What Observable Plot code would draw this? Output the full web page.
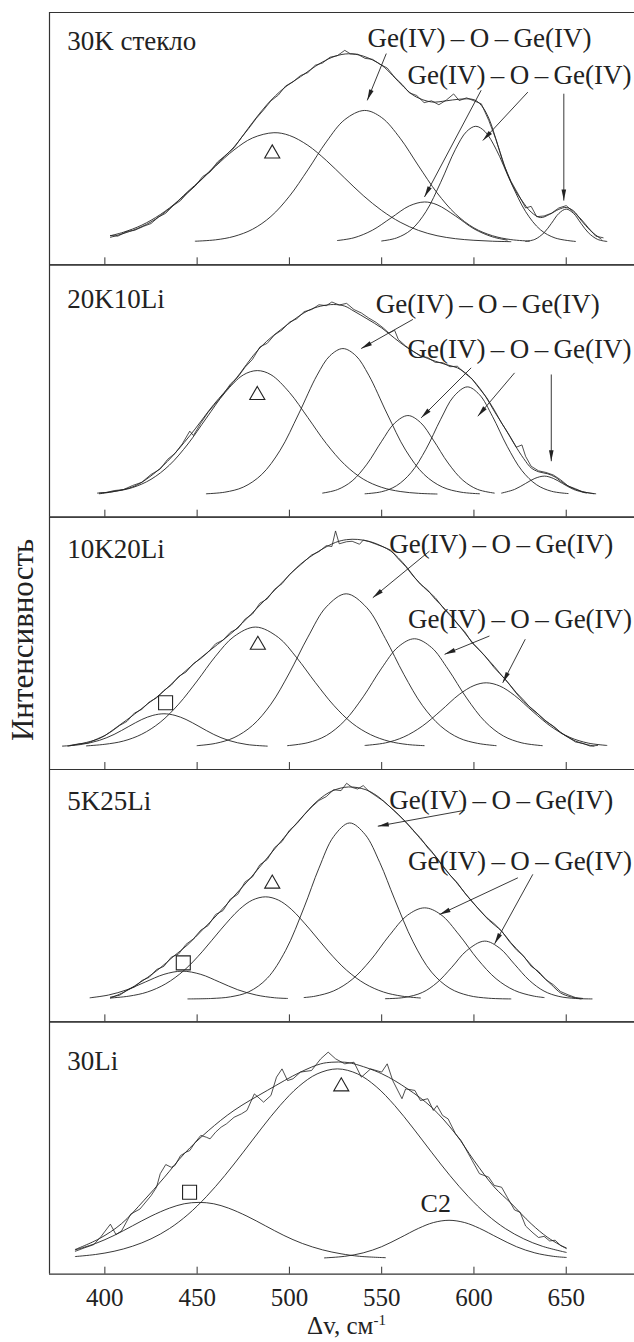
<!DOCTYPE html>
<html><head><meta charset="utf-8">
<script src="https://cdn.jsdelivr.net/npm/d3@7"></script>
<script src="https://cdn.jsdelivr.net/npm/@observablehq/plot@0.6"></script>
<style>
body{margin:0;background:#fff;}
#wrap{position:relative;width:634px;height:1342px;font-family:"Liberation Serif","Times New Roman",serif;color:#222;overflow:hidden;}
#ylab{position:absolute;left:22.5px;top:640px;transform:translate(-50%,-50%) rotate(-90deg);font-size:31px;white-space:nowrap;line-height:1.15;}
#xlab{position:absolute;left:346.5px;top:1313px;transform:translateX(-50%);font-size:25px;white-space:nowrap;line-height:1;}
#xlab sup{font-size:15px;vertical-align:9px;line-height:0;}
</style></head><body><div id="wrap"></div>
<script>
// ---------- categories / tick labels ----------
const panels = ["30K стекло", "20K10Li", "10K20Li", "5K25Li", "30Li"];
const xTicks = [400, 450, 500, 550, 600, 650];
const geText = "Ge(IV)\u2009\u2013\u2009O\u2009\u2013\u2009Ge(IV)";

// ---------- panel 1: 30K стекло ----------
const p1Exp = [[403,2.8],[407,2.5],[412,4.6],[416,5],[421,6.8],[425,8],[429,10.8],[433,12.5],[437,15.8],[441,18],[445,21.6],[449,24.4],[453,28.5],[457,30.5],[461,34.8],[465,37.5],[470,41],[474,45.5],[478,49.5],[482,53.8],[486,57.5],[490,61.5],[494,64],[498,68],[502,69.8],[506,72.5],[510,73.8],[514,77],[518,78],[522,80.5],[526,81.2],[530,83.5],[533,82],[537,81.8],[541,80],[545,79.6],[549,77.5],[553,75.8],[557,71.8],[561,68.7],[565,65],[569,63.8],[573,60.7],[577,61.5],[581,59.8],[585,61.8],[589,64.5],[592,61.6],[596,62.8],[600,61.5],[604,60.2],[608,53],[612,44.5],[616,34],[620,26.5],[624,20.8],[628,14.8],[631,15.5],[634,11],[638,11.3],[642,12.5],[646,14.8],[650,15.8],[654,13],[658,10],[662,6.2],[666,2.5],[670,1.8]];
const p1Fit = [[403,2],[415,5],[425,8.7],[435,14.5],[445,22],[452,27],[460,33.5],[470,41.4],[480,52],[488,60],[497,67],[506,72],[517,78],[525,81],[532,82],[540,81],[550,77],[556,72.5],[562,67.5],[568,63.5],[577,61],[585,61.5],[592,62.2],[600,62],[604,59.5],[608,54],[613,42],[618,30],[622,23],[626,18],[631,13],[636,10.6],[641,12],[646,14.2],[650,15],[654,13.5],[658,9.5],[663,5],[669,1.2]];
const p1Tri = [[403,2.7],[410,4.2],[420,7.3],[430,11.9],[440,18],[450,25.3],[460,33],[470,40.1],[480,45.3],[491.6,47.6],[500,46.4],[510,42.1],[520,35.5],[530,27.8],[540,20.2],[550,13.7],[560,8.6],[570,5],[580,2.7],[590,1.4],[600,0.7],[610,0.3],[620,0.1]];
const p1B540 = [[449,0.3],[460,0.9],[470,2.4],[480,5.5],[490,11.1],[500,19.9],[510,31.4],[520,43.6],[530,53.3],[540.7,57.3],[550,54.2],[560,45.2],[570,33.1],[580,21.4],[590,12.2],[600,6.1],[610,2.7],[620,1],[630,0.35]];
const p1B573 = [[526,0.6],[535,1.8],[545,5.1],[555,10.4],[565,15.7],[573.2,17.4],[580,16.2],[590,11.3],[600,5.7],[610,2.2],[618,0.8]];
const p1B601 = [[550,0.4],[558,1.7],[566,5.3],[574,13.2],[582,26],[590,40.4],[596,48.1],[601,50.4],[606,48.1],[612,40.4],[620,26],[628,13.2],[636,5.3],[644,1.7],[655,0.2]];
const p1B650 = [[628,0.2],[633,1.1],[638,4],[642,8.1],[646,12.4],[650,14.3],[654,12.4],[658,8.1],[662,4],[667,1.1],[672,0.2]];

// ---------- panel 2: 20K10Li ----------
const p2Exp = [[396,0.5],[401,0.8],[405,1.6],[410,2],[415,3.8],[420,5.2],[425,8.6],[430,11],[434,15.2],[438,17.8],[442,22],[446,27.5],[448,25.6],[452,31],[456,35.8],[460,39.6],[464,43.4],[468,48],[472,51],[476,55.4],[480,58.8],[484,64.2],[488,65.8],[492,69.5],[496,71.6],[500,75],[504,76.5],[508,79.6],[512,80.5],[516,82.6],[520,82.2],[523,83.8],[527,82.5],[531,83.2],[535,80.5],[539,79],[543,76.8],[547,74.9],[551,72.4],[554,70.2],[557,71.5],[559,67.5],[563,64.6],[567,62.4],[571,60.2],[575,59.6],[579,57.5],[583,57.4],[587,55.6],[591,55.8],[595,52.8],[599,50.2],[603,46],[607,42],[611,36.8],[615,31],[619,26],[623,20.5],[626,21.5],[628,16.5],[631,12.2],[635,10.2],[639,9.5],[643,8.4],[647,6.3],[651,3.6],[655,2.4],[659,1],[663,0.5],[666,0.2]];
const p2Fit = [[397,0.2],[405,1.2],[416,3.5],[425,8],[434,14.4],[446,25.5],[459,39.1],[470,49.3],[484,63.8],[499,74],[510,80],[517,82],[524,82.7],[530,82],[535,79.8],[542,76.5],[550,72.5],[557,68],[564,63.8],[571,60.5],[579,58],[585,56.5],[591,55.1],[596,52.5],[600,49.3],[606,43],[611,36.2],[617,28.5],[622,21.7],[627,15.5],[631,11.5],[635,9.8],[640,8.9],[644,7.5],[647,5.7],[652,3.2],[658,1.3],[665,0.2]];
const p2Tri = [[397,0.5],[405,1.2],[415,2.9],[425,6.5],[435,12.7],[445,21.9],[455,33.2],[465,44.2],[475,52],[482.6,53.9],[490,52.1],[500,44.4],[510,33.4],[520,22.1],[530,12.9],[540,6.6],[550,3],[560,1.2],[570,0.4],[580,0.1]];
const p2B529 = [[455,0.2],[465,0.9],[475,3.1],[485,8.6],[495,19.2],[505,35],[515,51.9],[522,60.4],[529,63.5],[536,60.4],[543,51.9],[553,35],[563,19.2],[573,8.6],[583,3.1],[593,0.9],[603,0.2]];
const p2B564 = [[518,0.5],[526,2],[534,5.8],[542,13.1],[550,23.1],[557,31],[564.2,34.3],[571,31.3],[578,23.6],[586,13.6],[594,6.1],[602,2.1],[611,0.5]];
const p2B596 = [[541,0.2],[550,1.1],[558,3.7],[566,9.5],[574,19.6],[582,32.7],[589,42.6],[596.4,46.8],[603,43.4],[610,34],[618,20.9],[626,10.3],[634,4.1],[642,1.3],[651,0.3]];
const p2B638 = [[615,0.5],[622,2.1],[628,4.7],[633,6.9],[638.2,7.9],[643,6.9],[648,4.7],[654,2.1],[661,0.5]];

// ---------- panel 3: 10K20Li ----------
const p3Exp = [[381,0.5],[386,1.2],[391,1.6],[396,3.4],[400,4.8],[404,6.8],[408,9.2],[412,11],[416,14.6],[420,16.2],[424,19.4],[428,21.2],[432,24.5],[436,26.8],[440,30.6],[444,32.5],[448,36.2],[452,38.4],[456,41.2],[460,44.8],[464,46.4],[468,49.8],[472,51.5],[476,55.6],[480,57.8],[484,62.5],[488,64.4],[492,68.6],[496,71],[500,75],[504,77.8],[508,80.6],[512,83.5],[516,85],[520,87.6],[523,87.2],[525,94],[527,88.4],[531,89.3],[534,89.5],[538,88.2],[540,90],[543,89.4],[547,88.2],[551,87],[555,85.6],[559,81.8],[563,78.5],[567,74.4],[571,70.8],[575,68.2],[579,64.2],[583,61],[587,57.6],[591,53.5],[595,50.1],[599,45.2],[603,42],[607,38.5],[611,35],[615,31],[619,27.4],[623,23.5],[627,20.2],[631,16.5],[635,14],[639,11],[643,8.9],[647,6],[651,4.2],[655,2],[659,1.4],[663,0.2],[667,0.5]];
const p3Fit = [[380,0.2],[390,1.8],[398,3.9],[407,8.8],[416,14.1],[423,18.5],[430,22.8],[441,31],[452,38.7],[461,44.5],[470,50.4],[479,57.5],[488,64.9],[497,72.3],[506,79.5],[516,85.2],[525,89],[531,90.2],[537,90.3],[544,89.3],[550,87.4],[555,85.2],[559,82.3],[564,77.8],[568,73.6],[573,69.3],[579,64.9],[584,59.8],[590,54.7],[595,49.6],[600,44.6],[606,39.5],[611,34.4],[617,29.3],[622,24.2],[627,19.6],[633,15.5],[638,11.8],[644,8.2],[649,5],[655,2.4],[660,1.1],[665,0.2]];
const p3Sq = [[377,0.2],[387,0.9],[397,2.7],[405,5.3],[413,8.8],[420,11.8],[426,13.6],[432,14.3],[438,13.6],[444,11.8],[451,8.8],[459,5.3],[467,2.7],[477,0.9],[488,0.2]];
const p3Tri = [[390,0.3],[400,1],[410,2.4],[420,5.4],[430,10.6],[440,18.5],[450,28.6],[460,39.4],[470,48],[481.7,52.1],[494,47.6],[504,38.7],[514,28],[524,18],[534,10.2],[544,5.2],[554,2.3],[564,0.9],[573,0.4]];
const p3B531 = [[450,0.4],[460,1.4],[470,3.9],[480,9.2],[490,18.5],[500,32.1],[510,47.7],[520,60.9],[530.8,66.6],[542,60.5],[552,47.1],[562,31.5],[572,18],[582,8.9],[592,3.7],[602,1.4],[612,0.4]];
const p3B568 = [[499,0.4],[510,1.7],[520,4.8],[530,11.3],[540,21.7],[550,34.2],[559,43.5],[567.8,47],[577,43.2],[586,33.7],[596,21.2],[606,10.9],[616,4.6],[626,1.6],[637,0.4]];
const p3B607 = [[541,0.5],[552,1.6],[562,4.2],[572,8.9],[582,15.6],[592,22.7],[600,26.6],[606.7,27.8],[614,26.4],[622,22.3],[632,15.2],[642,8.6],[652,4],[662,1.5],[672,0.5]];

// ---------- panel 4: 5K25Li ----------
const p4Exp = [[403,0.8],[408,1.6],[412,3.8],[416,5.2],[420,8],[424,9.4],[428,12.8],[432,14.2],[436,18.2],[440,19.6],[444,23.8],[448,26.2],[452,30],[456,32],[460,36.8],[464,38.5],[468,43.5],[472,45.6],[476,51],[480,53.2],[484,58.5],[488,60.8],[492,66],[496,68.6],[500,73.5],[504,76.4],[508,80.2],[512,83.6],[516,86.5],[520,88.2],[524,91.2],[528,90.8],[531,94],[534,92.2],[537,91.5],[540,93],[543,90.6],[547,88.4],[551,86.2],[555,83.4],[559,80.5],[563,77.2],[567,73.4],[571,70.2],[575,65.8],[579,62.4],[583,58.3],[587,54],[591,50.6],[595,46.2],[599,42.3],[603,38.8],[607,35.4],[611,32.8],[615,29.6],[619,25.2],[623,21.4],[627,18.6],[631,14.2],[635,12],[639,8.4],[643,6.2],[647,3.2],[651,1.8],[655,0.6],[659,0.2]];
const p4Fit = [[403,0.4],[410,2.8],[416,5.6],[423,9.3],[430,13.5],[437,18.4],[445,23.7],[453,30.2],[461,36.8],[470,44.8],[479,52.8],[488,61.5],[497,70.2],[506,78.5],[515,86.2],[523,90.6],[532,92.4],[541,91.3],[547,88.8],[553,84.8],[560,79.5],[566,74.6],[571,69.8],[577,64.4],[583,57.8],[590,51.3],[596,45.3],[602,39.7],[608,34.4],[615,29.5],[620,24.5],[626,19.4],[631,14.8],[636,10.7],[642,6.2],[647,2.6],[652,1],[658,0]];
const p4Sq = [[392,0.5],[402,1.7],[412,4],[422,7.4],[432,10.7],[441.9,12.1],[452,10.7],[462,7.4],[472,4],[482,1.7],[492,0.5],[499,0.2]];
const p4Tri = [[403,0.4],[413,1.2],[423,3],[433,6.6],[443,12.5],[453,20.8],[463,30.4],[473,39.1],[480,43.1],[487.1,44.5],[494,43.1],[501,39.1],[511,30.4],[521,20.8],[531,12.5],[541,6.6],[551,3],[561,1.2],[571,0.4]];
const p4B533 = [[445,0],[458,0.2],[468,0.9],[478,3.1],[488,9],[498,21.2],[508,40],[516,57],[524,70.8],[532.6,76.7],[541,71.7],[549,59.4],[557,43.5],[567,24.9],[577,11.7],[587,4.6],[597,1.5],[608,0.3],[620,0]];
const p4B573 = [[508,0.6],[514,1.2],[524,3.5],[534,8.5],[544,16.9],[554,27.5],[564,36.5],[573.2,39.7],[582,36.8],[592,27.9],[602,17.3],[612,8.8],[622,3.7],[632,1.3],[638,0.6]];
const p4B606 = [[552,0.1],[562,0.6],[572,2.8],[580,7.1],[588,13.8],[596,21],[605.7,25.2],[614,22.1],[622,15.1],[630,8.1],[638,3.4],[646,1.1],[655,0.2],[664,0]];

// ---------- panel 5: 30Li ----------
const p5Exp = [[384,0],[389,1.5],[394,2.9],[398,6.5],[403,11.8],[406,7.3],[409,8.8],[414,16.2],[419,18.4],[425,24.2],[428,27.9],[430,33.8],[433,37.8],[436,36.6],[438,37.4],[441,41.7],[444,43.2],[446,43.9],[449,47.5],[452,50.5],[455,49.7],[457,49],[460,51.9],[463,54.1],[466,55.6],[470,58.4],[474,59.9],[477,61.4],[481,68.6],[483,67.2],[486,65],[490,67.9],[493,75.9],[496,79.5],[499,74.4],[502,75.2],[506,78.1],[512,78.8],[517,83.9],[521,86.8],[525,83.9],[530,81.7],[535,82.4],[539,75.9],[544,79.5],[550,78.1],[553,81.7],[556,74.4],[561,66.5],[563,70.8],[568,70.1],[571,65.7],[575,66.5],[578,61.4],[580,63.5],[583,59.2],[586,57.7],[590,51.2],[593,48.3],[597,42.5],[599,39.6],[603,33.8],[608,32.3],[611,28.7],[615,27.9],[618,23.6],[622,18],[625,17],[628,11],[632,8],[635,6],[638,6.5],[641,4.5],[644,4.8],[647,2.5],[650,1.5]];
const p5Fit = [[384,0.8],[397,5.5],[409,12],[421,22],[432,32],[443,42.5],[456,52.5],[470,61.4],[488,70.1],[506,78.1],[517,81.7],[523,82.4],[530,82.4],[535,81.7],[550,77.4],[564,70.8],[577,62.8],[590,51.2],[600,39.6],[611,28],[620,21],[631,12],[640,6],[650,1.2]];
const p5Sq = [[384,0.6],[395,3.4],[405,6.9],[415,11.1],[425,15.3],[435,18.8],[443,20.7],[451,21.3],[459,20.7],[467,18.8],[477,15.3],[487,11.1],[497,6.9],[507,3.4],[518,0.6],[528,-1.1],[538,-2.2],[552,-2.8]];
const p5Tri = [[384,-2.3],[395,-1.4],[405,0],[415,2.2],[425,5.4],[435,9.9],[445,16],[455,23.8],[465,33],[475,43.2],[485,53.7],[495,63.6],[505,71.8],[515,77.3],[526,79.5],[537,77.3],[547,71.8],[557,63.6],[567,53.7],[577,43.2],[587,33],[597,23.8],[607,16],[617,9.9],[627,5.4],[637,2.2],[650,-0.5]];
const p5C2 = [[519,-2.9],[530,-2.2],[540,-0.7],[550,2],[560,5.9],[570,10],[578,12.5],[586.5,13.5],[595,12.5],[603,10],[613,5.9],[623,2],[633,-0.7],[643,-2.2],[650,-2.7]];

// ---------- annotations (panel index, data coordinates) ----------
const geLabels = [[0,603,84.9],[0,624.7,69],[1,607.5,79.1],[1,624.7,59.2],[2,614.8,84.5],[2,625,51.8],[3,614.8,82.6],[3,625,56]];
const arrowsData = [
  [0,552.5,82.1,542.2,61.7],[0,603.9,66.1,573.2,19.6],[0,629.2,65.3,604.8,44.2],[0,648.7,64.6,648.7,18],
  [1,566.9,76.2,538.9,63.5],[1,598.5,55.1,571.4,33.3],[1,622,52.9,602.1,34],[1,641.9,52.2,641.9,14.4],
  [2,575.9,85.2,545.2,64.9],[2,608.4,48.2,584.1,40.2],[2,627.8,46.8,615.6,27.8],
  [3,594.9,82.2,547.9,75.3],[3,623.8,52.8,581.4,36.8],[3,631.9,54.3,611.2,24]
];
const triMarks = [[0,490.7,38.5],[1,482.6,43.2],[2,482.9,44.3],[3,490.7,50.2],[4,528.1,71.8]];
const sqMarks = [[2,432.9,19.1],[3,442.5,15.7],[4,445.9,25.7]];
const nameMarks = [[0,379.6,83.5],[1,379.6,81],[2,379.6,82.1],[3,379.6,82.2],[4,379.6,78.8]];
const c2Mark = [[4,579.3,16.9,"C2"]];

// ---------- build tables ----------
const curveList = [
  [0,"exp",p1Exp],[0,"fit",p1Fit],[0,"tri",p1Tri],[0,"b540",p1B540],[0,"b573",p1B573],[0,"b601",p1B601],[0,"b650",p1B650],
  [1,"exp",p2Exp],[1,"fit",p2Fit],[1,"tri",p2Tri],[1,"b529",p2B529],[1,"b564",p2B564],[1,"b596",p2B596],[1,"b638",p2B638],
  [2,"exp",p3Exp],[2,"fit",p3Fit],[2,"sq",p3Sq],[2,"tri",p3Tri],[2,"b531",p3B531],[2,"b568",p3B568],[2,"b607",p3B607],
  [3,"exp",p4Exp],[3,"fit",p4Fit],[3,"sq",p4Sq],[3,"tri",p4Tri],[3,"b533",p4B533],[3,"b573",p4B573],[3,"b606",p4B606],
  [4,"exp",p5Exp],[4,"fit",p5Fit],[4,"sq",p5Sq],[4,"tri",p5Tri],[4,"c2",p5C2]
];
const rows = curveList.flatMap(([pi, s, arr]) => arr.map(([x, y]) => ({panel: panels[pi], id: pi + "-" + s, kind: s === "exp" ? "exp" : "smooth", x, y})));
const smoothRows = rows.filter(d => d.kind === "smooth");
const expRows = rows.filter(d => d.kind === "exp");
const toPt = arr => arr.map(([pi, x, y, t]) => ({panel: panels[pi], x, y, t}));
const arrowRows = arrowsData.map(([pi, x1, y1, x2, y2]) => ({panel: panels[pi], x1, y1, x2, y2}));

const ink = "#222";
const yMin = -10, yMax = 100;
const tickLen = 7 * (yMax - yMin) / (1261.7 / 5);

function filledHead(color) {
  const m = d3.create("svg:marker")
    .attr("viewBox", "-11 -3 11 6")
    .attr("markerWidth", 11).attr("markerHeight", 6)
    .attr("markerUnits", "userSpaceOnUse")
    .attr("orient", "auto").attr("overflow", "visible");
  m.append("path").attr("fill", color).attr("stroke", "none").attr("d", "M-11,-2.3L0,0L-11,2.3Z");
  return m.node();
}

function build(useMarker) {
  const arrowMark = useMarker
    ? Plot.link(arrowRows, {x1: "x1", y1: "y1", x2: "x2", y2: "y2", fy: "panel", stroke: ink, strokeWidth: 0.9, markerEnd: filledHead})
    : Plot.arrow(arrowRows, {x1: "x1", y1: "y1", x2: "x2", y2: "y2", fy: "panel", stroke: ink, strokeWidth: 0.9, headLength: 9, headAngle: 24});
  return Plot.plot({
    width: 634, height: 1342,
    marginLeft: 49, marginRight: 0, marginTop: 12, marginBottom: 68.3,
    x: {domain: [370, 687]},
    y: {domain: [yMin, yMax], axis: null},
    fy: {domain: panels, axis: null, padding: 0, round: false},
    style: {fontFamily: '"Liberation Serif","Times New Roman",serif', color: ink, background: "white", overflow: "visible"},
    marks: [
      Plot.ruleY([yMin, yMax], {stroke: "#333", strokeWidth: 1.2}),
      Plot.ruleX([370], {stroke: "#333", strokeWidth: 1.2}),
      Plot.ruleX(xTicks, {x: d => d, y1: yMin, y2: yMin + tickLen, stroke: "#333", strokeWidth: 1}),
      Plot.line(smoothRows, {x: "x", y: "y", z: "id", fy: "panel", curve: "catmull-rom", stroke: ink, strokeWidth: 0.9}),
      Plot.line(expRows, {x: "x", y: "y", z: "id", fy: "panel", curve: "linear", stroke: ink, strokeWidth: 0.8}),
      arrowMark,
      Plot.text(toPt(geLabels), {x: "x", y: "y", fy: "panel", text: () => geText, fontSize: 27, textAnchor: "middle", lineAnchor: "bottom", fill: ink}),
      Plot.text(toPt(nameMarks), {x: "x", y: "y", fy: "panel", text: d => d.panel, fontSize: 27, textAnchor: "start", lineAnchor: "bottom", fill: ink}),
      Plot.text(toPt(c2Mark), {x: "x", y: "y", fy: "panel", text: "t", fontSize: 26, textAnchor: "middle", lineAnchor: "bottom", fill: ink}),
      Plot.dot(toPt(triMarks), {x: "x", y: "y", fy: "panel", symbol: "triangle", r: 5.6, fill: "none", stroke: ink, strokeWidth: 1.1}),
      Plot.dot(toPt(sqMarks), {x: "x", y: "y", fy: "panel", symbol: "square", r: 7.9, fill: "none", stroke: ink, strokeWidth: 1.1}),
      Plot.axisX(xTicks, {tickSize: 0, tickPadding: 14, fontSize: 25, label: null})
    ]
  });
}

let chart;
try { chart = build(true); } catch (e) { chart = build(false); }

const wrap = document.getElementById("wrap");
wrap.appendChild(chart);
const yl = document.createElement("div"); yl.id = "ylab"; yl.textContent = "Интенсивность"; wrap.appendChild(yl);
const xl = document.createElement("div"); xl.id = "xlab"; xl.innerHTML = "Δv, см<sup>-1</sup>"; wrap.appendChild(xl);
</script></body></html>
